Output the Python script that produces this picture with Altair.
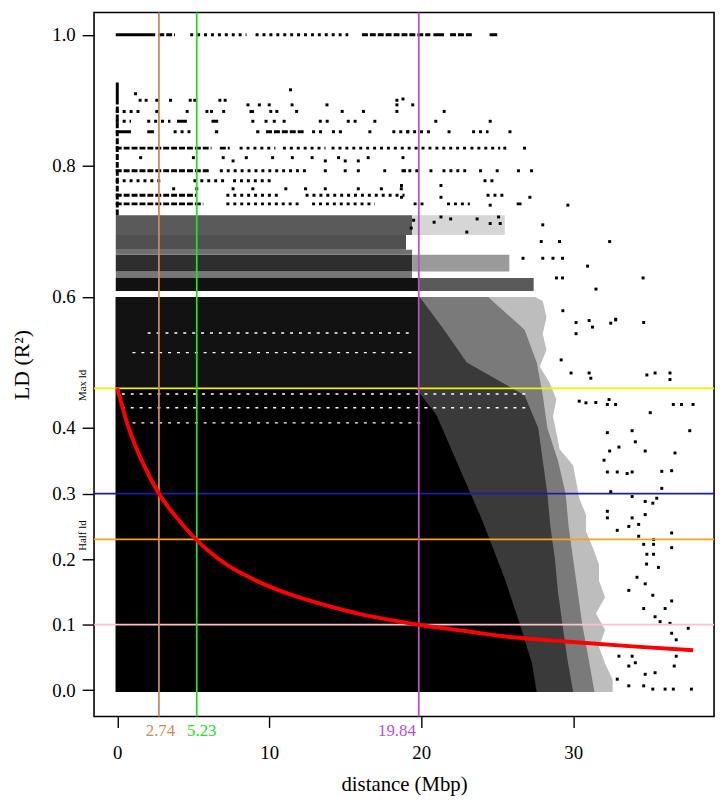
import altair as alt
import pandas as pd

FONT = "Liberation Serif"

# ---------------- data ----------------
# fitted LD-decay curve (red)
curve_x = [0, 0.67, 1.76, 2.74, 3.93, 5.23, 7.18, 9.35, 11.52, 13.69, 15.86, 18.03,
           19.84, 23.0, 25.2, 29.5, 33.9, 37.9]
curve_y = [0.461, 0.406, 0.343, 0.300, 0.263, 0.229, 0.192, 0.165, 0.145, 0.130, 0.117,
           0.107, 0.100, 0.090, 0.083, 0.0745, 0.067, 0.061]

# reference lines
h_vals = [0.4605, 0.300, 0.2302, 0.100]
h_cols = ["#f2f200", "#1c1ca8", "#ffa020", "#ffc0cb"]
v_vals = [2.74, 5.23, 19.84]
v_cols = ["#cd8a5a", "#22e022", "#b84fcc"]
v_text = ["2.74", "5.23", "19.84"]
v_text_x = [2.84, 5.56, 18.4]

ld_text = ["Max ld", "Half ld"]
ld_text_y = [0.465, 0.236]

# right-hand extent (Mbp) of each density level of the point cloud, per r^2 level
core_y = [-0.0025, 0.04, 0.10, 0.17, 0.26, 0.34, 0.42, 0.465]
core_right = [27.6, 27.3, 26.5, 25.5, 24.0, 22.5, 21.0, 19.5]
upper_core_y = [0.46, 0.60]
upper_core_right = [19.9, 19.9]
dense_y = [-0.0025, 0.05, 0.10, 0.15, 0.20, 0.25, 0.30, 0.35, 0.40, 0.45, 0.50, 0.55, 0.60]
dense_right = [30.0, 29.6, 29.3, 29.0, 28.8, 28.5, 28.3, 28.0, 27.7, 26.8, 23.0, 21.5, 19.9]
mid_y = [-0.0025, 0.05, 0.10, 0.15, 0.20, 0.25, 0.30, 0.35, 0.40, 0.45, 0.50, 0.55, 0.60]
mid_right = [31.4, 31.0, 30.6, 30.3, 30.0, 29.7, 29.5, 29.0, 28.3, 28.0, 27.6, 26.8, 24.4]
light_y = [-0.0025, 0.016, 0.041, 0.066, 0.092, 0.117, 0.142, 0.167, 0.192, 0.217, 0.243,
           0.268, 0.293, 0.318, 0.343, 0.368, 0.393, 0.418, 0.444, 0.469, 0.494, 0.519,
           0.544, 0.569, 0.594, 0.60]
light_right = [32.6, 32.6, 32.1, 31.7, 32.1, 31.5, 32.1, 31.7, 31.7, 31.3, 30.84, 30.84,
               30.4, 30.2, 30.0, 29.1, 28.9, 28.67, 28.9, 28.45, 27.8, 28.24, 28.0, 28.24,
               28.0, 27.5]

# white striations inside the dense core
gap_y = [0.452, 0.431, 0.408, 0.545, 0.515]
gap_x1 = [0.3, 0.3, 1.0, 2.0, 1.0]
gap_x2 = [27.0, 27.0, 20.0, 19.5, 19.5]

# banded zone 0.61 - 0.72
band_x1 = [-0.1, 19.9, -0.1, -0.1, 19.4, -0.1, -0.1, -0.1, 19.4]
band_x2 = [19.9, 27.4, 19.4, 19.4, 25.8, 19.4, 19.0, 19.4, 25.5]
band_y1 = [0.609, 0.609, 0.629, 0.639, 0.639, 0.6645, 0.672, 0.6945, 0.6945]
band_y2 = [0.629, 0.629, 0.639, 0.6645, 0.6645, 0.672, 0.6945, 0.7245, 0.7245]
band_shade = ["#111111", "#5a5a5a", "#777777", "#2e2e2e", "#9a9a9a", "#707070",
              "#505050", "#5a5a5a", "#d6d6d6"]

# rows of points at discrete r^2 values
row_y = [1.0, 1.0, 1.0, 1.0, 1.0, 1.0, 1.0, 1.0,
         0.883, 0.883,
         0.868, 0.868, 0.868, 0.868, 0.868,
         0.852, 0.852, 0.852, 0.852, 0.852, 0.852, 0.852, 0.852, 0.852, 0.852,
         0.827, 0.827, 0.827, 0.827, 0.827, 0.827,
         0.7925, 0.7925, 0.7925, 0.7925,
         0.7774, 0.7774, 0.7774, 0.7774,
         0.755, 0.755, 0.755, 0.755,
         0.742, 0.742, 0.742, 0.742, 0.742, 0.742]
row_x1 = [-0.1, 2.7, 4.8, 9.1, 16.1, 20.8, 21.9, 24.5,
          -0.1, 8.7,
          -0.1, 1.97, 3.93, 6.2, 13.26,
          -0.1, 1.97, 3.71, 6.43, 9.14, 9.79, 12.82, 14.13, 18.1, 23.35,
          -0.1, 6.75, 8.05, 10.9, 14.1, 23.24,
          -0.1, 6.75, 18.7, 21.4,
          -0.1, 5.01, 7.62, 24.1,
          -0.1, 7.18, 12.39, 24.3,
          -0.1, 7.18, 12.82, 19.5, 21.7, 26.28]
row_x2 = [2.5, 3.8, 8.5, 15.2, 20.6, 21.5, 23.4, 25.0,
          1.5, 9.0,
          0.9, 3.5, 4.58, 6.64, 14.13,
          0.9, 2.41, 5.01, 6.64, 9.35, 12.39, 13.69, 15.0, 20.6, 24.43,
          6.2, 7.4, 10.4, 13.7, 23.0, 25.2,
          6.1, 12.61, 20.0, 23.0,
          2.84, 7.18, 10.2, 24.8,
          5.2, 10.66, 18.9, 25.6,
          5.66, 11.96, 16.95, 20.3, 23.2, 26.6]
row_style = ["solid", "dash", "dot", "dot", "dash", "solid", "dash", "solid",
             "dot", "solid",
             "dot", "dot", "solid", "solid", "dot",
             "solid", "solid", "dot", "solid", "solid", "dash", "dot", "dot", "dot", "dot",
             "dash", "dash", "dot", "dot", "dot", "dot",
             "dash", "dot", "dot", "dot",
             "dot", "dot", "dot", "dot",
             "dash", "dot", "dot", "dot",
             "dash", "dot", "dot", "dot", "dot", "solid"]

# column of points at distance 0
col_y1 = [0.7245, 0.899]
col_y2 = [0.899, 0.927]
col_style = ["dash", "solid"]

# isolated points, upper part
upper_pts = [
    (1.2, 0.910), (11.4, 0.916),
    (1.5, 0.900), (1.9, 0.900), (2.6, 0.900), (3.5, 0.900), (4.8, 0.900), (5.1, 0.900),
    (6.75, 0.900), (7.1, 0.900), (18.4, 0.900), (18.8, 0.902),
    (8.6, 0.893), (9.35, 0.893), (10.0, 0.893), (11.5, 0.893), (13.8, 0.893), (18.4, 0.893),
    (19.44, 0.893),
    (2.6, 0.883), (4.6, 0.883), (5.9, 0.883), (6.2, 0.883), (7.0, 0.883), (10.1, 0.883),
    (10.5, 0.883), (11.8, 0.883), (14.8, 0.883), (16.2, 0.883), (18.4, 0.883), (21.51, 0.883),
    (8.92, 0.868), (9.79, 0.868), (10.33, 0.868), (10.98, 0.868), (15.2, 0.868), (15.65, 0.868),
    (16.95, 0.868), (20.96, 0.868), (24.54, 0.868),
    (16.62, 0.852), (19.12, 0.852), (21.83, 0.852), (25.84, 0.852),
    (25.5, 0.827), (26.8, 0.827),
    (1.54, 0.8125), (5.01, 0.8125), (6.97, 0.8125), (8.49, 0.8125), (10.22, 0.8125),
    (11.52, 0.8125), (12.82, 0.8125), (14.56, 0.8125), (16.51, 0.8125), (18.8, 0.8125),
    (7.62, 0.8075), (13.69, 0.8075), (15.0, 0.8075), (15.86, 0.8075),
    (13.69, 0.7925), (15.0, 0.7925), (15.86, 0.7925), (17.6, 0.7925), (18.9, 0.7925),
    (20.64, 0.7925), (23.9, 0.7925), (25.0, 0.7925), (26.4, 0.7925), (27.26, 0.7925),
    (18.7, 0.770), (21.3, 0.770),
    (3.71, 0.765), (5.23, 0.765), (7.62, 0.765), (8.92, 0.765), (11.09, 0.765), (12.39, 0.765),
    (13.69, 0.765), (15.86, 0.765), (17.38, 0.765), (18.69, 0.765),
    (18.7, 0.752), (21.3, 0.752), (27.15, 0.752),
    (24.54, 0.740), (29.65, 0.740),
    (19.5, 0.717), (20.85, 0.714), (21.3, 0.722), (21.94, 0.719), (23.68, 0.719), (25.09, 0.722),
    (25.2, 0.712), (24.54, 0.712), (28.0, 0.710), (23.0, 0.699), (19.34, 0.705),
    (27.9, 0.6845), (29.1, 0.6845), (32.4, 0.6845),
    (26.7, 0.659), (28.0, 0.659), (28.67, 0.659), (29.3, 0.659), (30.95, 0.647),
    (28.9, 0.629), (29.3, 0.629), (31.5, 0.612), (34.6, 0.629), (32.8, 0.566),
]

# isolated points, right fringe
fringe_pts = [
    (29.32, 0.579), (30.19, 0.561), (31.05, 0.564), (31.27, 0.554), (32.47, 0.560),
    (32.79, 0.565), (34.64, 0.561), (30.19, 0.544), (29.21, 0.504), (29.86, 0.484),
    (31.05, 0.484), (31.16, 0.476), (34.85, 0.481), (35.39, 0.484), (36.37, 0.484),
    (36.37, 0.474), (30.40, 0.441), (30.84, 0.4385), (31.49, 0.439), (32.36, 0.4435),
    (32.25, 0.436), (32.79, 0.436), (36.59, 0.436), (37.13, 0.436), (37.89, 0.436),
    (35.07, 0.4235), (37.67, 0.396), (33.88, 0.396), (32.25, 0.393), (34.09, 0.379),
    (33.01, 0.371), (34.74, 0.365), (36.70, 0.362), (32.40, 0.365), (32.03, 0.351),
    (33.55, 0.3306), (33.88, 0.333), (32.90, 0.333), (32.25, 0.333), (35.83, 0.334),
    (36.48, 0.335), (35.83, 0.308), (32.47, 0.303), (33.88, 0.2955), (34.74, 0.288),
    (35.24, 0.2854), (35.50, 0.293), (32.25, 0.273), (32.25, 0.263), (33.88, 0.263),
    (34.31, 0.253), (34.74, 0.268), (33.66, 0.250), (32.90, 0.244), (34.31, 0.235),
    (35.29, 0.230), (35.29, 0.2226), (36.48, 0.240), (36.48, 0.2176), (34.64, 0.2226),
    (34.85, 0.2075), (35.29, 0.2075), (34.83, 0.1925), (35.61, 0.1875), (34.20, 0.1724),
    (34.74, 0.1624), (33.66, 0.1524), (35.24, 0.1449), (36.48, 0.1363), (36.05, 0.1247),
    (34.64, 0.1247), (35.39, 0.1122), (35.72, 0.1047), (36.37, 0.1021), (37.57, 0.0946),
    (36.48, 0.087), (36.78, 0.077), (36.78, 0.052), (36.65, 0.037), (35.39, 0.0268),
    (34.74, 0.0244), (33.88, 0.052), (34.09, 0.042), (33.01, 0.052), (33.66, 0.037),
    (32.90, 0.0169), (33.66, 0.0068), (34.64, 0.0068), (35.24, 0.0018), (36.05, 0.0018),
    (36.59, 0.0018), (37.78, 0.0018),
]

x_ticks = [0, 10, 20, 30]
y_ticks = [0.0, 0.1, 0.2, 0.3, 0.4, 0.6, 0.8, 1.0]
X_DOMAIN = [-1.53, 39.27]
Y_DOMAIN = [-0.04, 1.034]
LEFT = -0.1

# ---------------- encodings ----------------
xs = alt.Scale(domain=X_DOMAIN, nice=False, zero=False)
ys = alt.Scale(domain=Y_DOMAIN, nice=False, zero=False)
x_axis = alt.Axis(values=x_ticks, tickSize=11, tickWidth=1.4, tickColor="black",
                  domain=False, grid=False, labelFont=FONT, labelFontSize=19,
                  labelColor="black", labelPadding=16, titleFont=FONT, titleFontSize=21,
                  titleFontWeight="normal", titleColor="black", titlePadding=12)
y_axis = alt.Axis(values=y_ticks, format=".1f", tickSize=12, tickWidth=1.4,
                  tickColor="black", domain=False, grid=False, labelFont=FONT,
                  labelFontSize=19, labelColor="black", labelPadding=7, titleFont=FONT,
                  titleFontSize=22, titleFontWeight="normal", titleColor="black",
                  titlePadding=19)
X_TITLE = "distance (Mbp)"
Y_TITLE = "LD (R\u00b2)"


def X(f):
    return alt.X(f, type="quantitative", scale=xs, axis=x_axis, title=X_TITLE)


def Y(f):
    return alt.Y(f, type="quantitative", scale=ys, axis=y_axis, title=Y_TITLE)


layers = []

# density levels of the cloud, drawn as horizontal areas (extent per r^2 level)
for ys_, rights, col in [(light_y, light_right, "#bdbdbd"), (mid_y, mid_right, "#7a7a7a"),
                         (dense_y, dense_right, "#3a3a3a"), (core_y, core_right, "#000000"),
                         (upper_core_y, upper_core_right, "#121212")]:
    d = pd.DataFrame({"y": ys_, "right": rights, "left": [LEFT] * len(ys_)})
    layers.append(alt.Chart(d).mark_area(color=col, opacity=1, orient="horizontal",
                                         interpolate="linear")
                  .encode(y=Y("y"), x=X("right"), x2=alt.X2("left")))

gaps = pd.DataFrame({"y": gap_y, "x1": gap_x1, "x2": gap_x2})
layers.append(alt.Chart(gaps).mark_rule(color="white", strokeWidth=1.4, strokeDash=[3, 6])
              .encode(x=X("x1"), x2=alt.X2("x2"), y=Y("y")))

bands = pd.DataFrame({"x1": band_x1, "x2": band_x2, "y1": band_y1, "y2": band_y2,
                      "c": band_shade})
layers.append(alt.Chart(bands).mark_rect()
              .encode(x=X("x1"), x2=alt.X2("x2"), y=Y("y1"), y2=alt.Y2("y2"),
                      color=alt.Color("c:N", scale=None)))

rows = pd.DataFrame({"y": row_y, "x1": row_x1, "x2": row_x2, "s": row_style})
cols = pd.DataFrame({"x": [0.0, 0.0], "y1": col_y1, "y2": col_y2, "s": col_style})
dash_map = {"solid": [1, 0], "dash": [6, 2], "dot": [3, 4]}
for sty, dash in dash_map.items():
    r = rows[rows.s == sty]
    if len(r):
        layers.append(alt.Chart(r).mark_rule(color="black", strokeWidth=3, strokeDash=dash,
                                             strokeCap="butt")
                      .encode(x=X("x1"), x2=alt.X2("x2"), y=Y("y")))
    c = cols[cols.s == sty]
    if len(c):
        layers.append(alt.Chart(c).mark_rule(color="black", strokeWidth=3, strokeDash=dash,
                                             strokeCap="butt")
                      .encode(x=X("x"), y=Y("y1"), y2=alt.Y2("y2")))

pts = pd.DataFrame(upper_pts + fringe_pts, columns=["x", "y"])
layers.append(alt.Chart(pts).mark_square(size=9, color="black", opacity=1, filled=True)
              .encode(x=X("x"), y=Y("y")))

hl = pd.DataFrame({"y": h_vals, "c": h_cols})
layers.append(alt.Chart(hl).mark_rule(strokeWidth=1.8)
              .encode(y=Y("y"), color=alt.Color("c:N", scale=None)))
vl = pd.DataFrame({"x": v_vals, "c": v_cols})
layers.append(alt.Chart(vl).mark_rule(strokeWidth=1.8)
              .encode(x=X("x"), color=alt.Color("c:N", scale=None)))

curve = pd.DataFrame({"x": curve_x, "y": curve_y})
layers.append(alt.Chart(curve).mark_line(color="#ff0000", strokeWidth=4, interpolate="monotone")
              .encode(x=X("x"), y=Y("y")))

vt = pd.DataFrame({"x": v_text_x, "t": v_text, "c": v_cols})
layers.append(alt.Chart(vt).mark_text(font=FONT, fontSize=17, baseline="alphabetic",
                                      align="center")
              .encode(x=X("x"), y=alt.value(732), text="t:N",
                      color=alt.Color("c:N", scale=None)))

lt = pd.DataFrame({"y": ld_text_y, "t": ld_text})
layers.append(alt.Chart(lt).mark_text(font=FONT, fontSize=11, baseline="alphabetic",
                                      align="center", angle=270, color="black")
              .encode(x=alt.value(-8), y=Y("y"), text="t:N"))

chart = (alt.layer(*layers)
         .properties(width=627, height=712, background="white",
                     autosize=alt.AutoSizeParams(type="none"),
                     padding={"left": 87, "top": 0, "right": 4, "bottom": 85})
         .configure_view(stroke="black", strokeWidth=1.6))

chart.save("out.html", embed_options={"renderer": "svg", "actions": False})
